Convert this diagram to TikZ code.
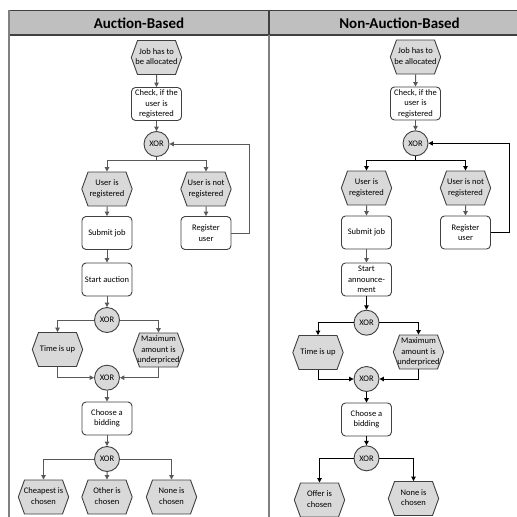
\documentclass[tikz,border=0pt]{standalone}
\usepackage{fontspec}
\setmainfont{Carlito}
\usetikzlibrary{shapes.symbols,arrows.meta}
\definecolor{hexgray}{HTML}{D9D9D9}
\definecolor{headgray}{HTML}{BFBFBF}
\definecolor{linegray}{HTML}{595959}
\definecolor{rimgray}{HTML}{404040}
\definecolor{lanegray}{HTML}{808080}
% event text: fixed width, long lines stick out
\newcommand{\hx}[1]{\makebox[38pt]{\begin{tabular}{@{}c@{}}#1\end{tabular}}}
\begin{document}
\begin{tikzpicture}[x=1pt, y=-1pt, >={Triangle[length=4.5pt,width=4.5pt]},
  every node/.style={font=\fontsize{8.5}{10.3}\selectfont, align=center},
  task/.style={draw=rimgray, line width=0.9pt, rounded corners=4pt, fill=white, minimum width=50pt, minimum height=33pt, inner sep=1pt},
  event/.style={draw=rimgray, line width=0.9pt, fill=hexgray, signal, signal to=west and east, signal pointer angle=140, inner xsep=0pt, inner ysep=1pt, minimum height=34pt},
  xor/.style={draw=rimgray, line width=0.9pt, fill=hexgray, circle, minimum size=25pt, inner sep=0pt},
  flow/.style={->, draw=linegray, line width=1pt},
  flowb/.style={->, draw=black, line width=1pt}]
  \useasboundingbox (0,0) rectangle (517,517);
  % lanes
  \fill[headgray] (9,10.7) rectangle (517,35);
  \draw[rimgray, line width=1.5pt] (9,10.7) -- (517,10.7);
  \draw[rimgray, line width=1.5pt] (9,35) -- (517,35);
  \draw[lanegray, line width=1.3pt] (9,10) -- (9,517);
  \draw[rimgray, line width=2pt] (269,10.7) -- (269,35);
  \draw[lanegray, line width=2.5pt] (269,35) -- (269,517);
  \node[font=\fontsize{15}{17}\selectfont\bfseries] (h1) at (139,23) {Auction-Based};
  \node[font=\fontsize{15}{17}\selectfont\bfseries] (h2) at (399.5,23) {Non-Auction-Based};
  % auction-based
  \node[event] (a1) at (156.5,57.5) {\hx{Job has to\\be allocated}};
  \node[task] (a2) at (156.5,104) {Check, if the\\user is\\registered};
  \node[xor] (a3) at (156.5,144) {XOR};
  \node[event] (a4) at (107,189) {\hx{User is\\registered}};
  \node[event] (a5) at (206,189) {\hx{User is not\\registered}};
  \node[task] (a6) at (107,233) {Submit job};
  \node[task] (a7) at (206,233) {Register\\user};
  \node[task] (a8) at (107,279.5) {Start auction};
  \node[xor] (a9) at (107,320) {XOR};
  \node[event] (a10) at (57.5,349.5) {\hx{Time is up}};
  \node[event] (a11) at (158.5,350) {\hx{Maximum\\amount is\\underpriced}};
  \node[xor] (a12) at (107,377.7) {XOR};
  \node[task] (a13) at (107,418.5) {Choose a\\bidding};
  \node[xor] (a14) at (107,459) {XOR};
  \node[event] (a15) at (43.5,497) {\hx{Cheapest is\\chosen}};
  \node[event] (a16) at (107,497) {\hx{Other is\\chosen}};
  \node[event] (a17) at (171.5,497) {\hx{None is\\chosen}};
  \draw[flow] (a1) -- (a2);
  \draw[flow] (a2) -- (a3);
  \draw[flow] (a3.south) -- ++(0,4) -| (a4);
  \draw[flow] (a3.south) -- ++(0,4) -| (a5);
  \draw[flow] (a4) -- (a6);
  \draw[flow] (a5) -- (a7);
  \draw[flow] (a7.east) -- ++(18,0) |- (a3.east);
  \draw[flow] (a6) -- (a8);
  \draw[flow] (a8) -- (a9);
  \draw[flow] (a9.west) -| (a10);
  \draw[flow] (a9.east) -| (a11);
  \draw[flow] (a10.south) |- (a12.west);
  \draw[flow] (a11.south) |- (a12.east);
  \draw[flow] (a12) -- (a13);
  \draw[flow] (a13) -- (a14);
  \draw[flow] (a14.west) -| (a15);
  \draw[flow] (a14) -- (a16);
  \draw[flow] (a14.east) -| (a17);
  % non-auction-based
  \node[event] (b1) at (415.5,57) {\hx{Job has to\\be allocated}};
  \node[task] (b2) at (415.5,103.5) {Check, if the\\user is\\registered};
  \node[xor] (b3) at (415.5,143.3) {XOR};
  \node[event] (b4) at (366.5,188) {\hx{User is\\registered}};
  \node[event] (b5) at (465.5,188) {\hx{User is not\\registered}};
  \node[task] (b6) at (366.5,232.5) {Submit job};
  \node[task] (b7) at (465.5,232.5) {Register\\user};
  \node[task] (b8) at (366.5,279.5) {Start\\announce-\\ment};
  \node[xor] (b9) at (366.5,322.7) {XOR};
  \node[event] (b10) at (318,352.5) {\hx{Time is up}};
  \node[event] (b11) at (418.5,352) {\hx{Maximum\\amount is\\underpriced}};
  \node[xor] (b12) at (366.5,379) {XOR};
  \node[task] (b13) at (366.5,419.5) {Choose a\\bidding};
  \node[xor] (b14) at (366.5,458.3) {XOR};
  \node[event] (b15) at (319.5,500) {\hx{Offer is\\chosen}};
  \node[event] (b16) at (413.5,498.5) {\hx{None is\\chosen}};
  \draw[flow] (b1) -- (b2);
  \draw[flow] (b2) -- (b3);
  \draw[flowb] (b3.south) -- ++(0,4) -| (b4);
  \draw[flowb] (b3.south) -- ++(0,4) -| (b5);
  \draw[flow] (b4) -- (b6);
  \draw[flow] (b5) -- (b7);
  \draw[flowb] (b7.east) -- ++(19,0) |- (b3.east);
  \draw[flow] (b6) -- (b8);
  \draw[flowb] (b8) -- (b9);
  \draw[flowb] (b9.west) -| (b10);
  \draw[flowb] (b9.east) -| (b11);
  \draw[flowb] (b10.south) |- (b12.west);
  \draw[flowb] (b11.south) |- (b12.east);
  \draw[flowb] (b12) -- (b13);
  \draw[flowb] (b13) -- (b14);
  \draw[flowb] (b14.west) -| (b15);
  \draw[flowb] (b14.east) -| (b16);
\end{tikzpicture}
\end{document}
